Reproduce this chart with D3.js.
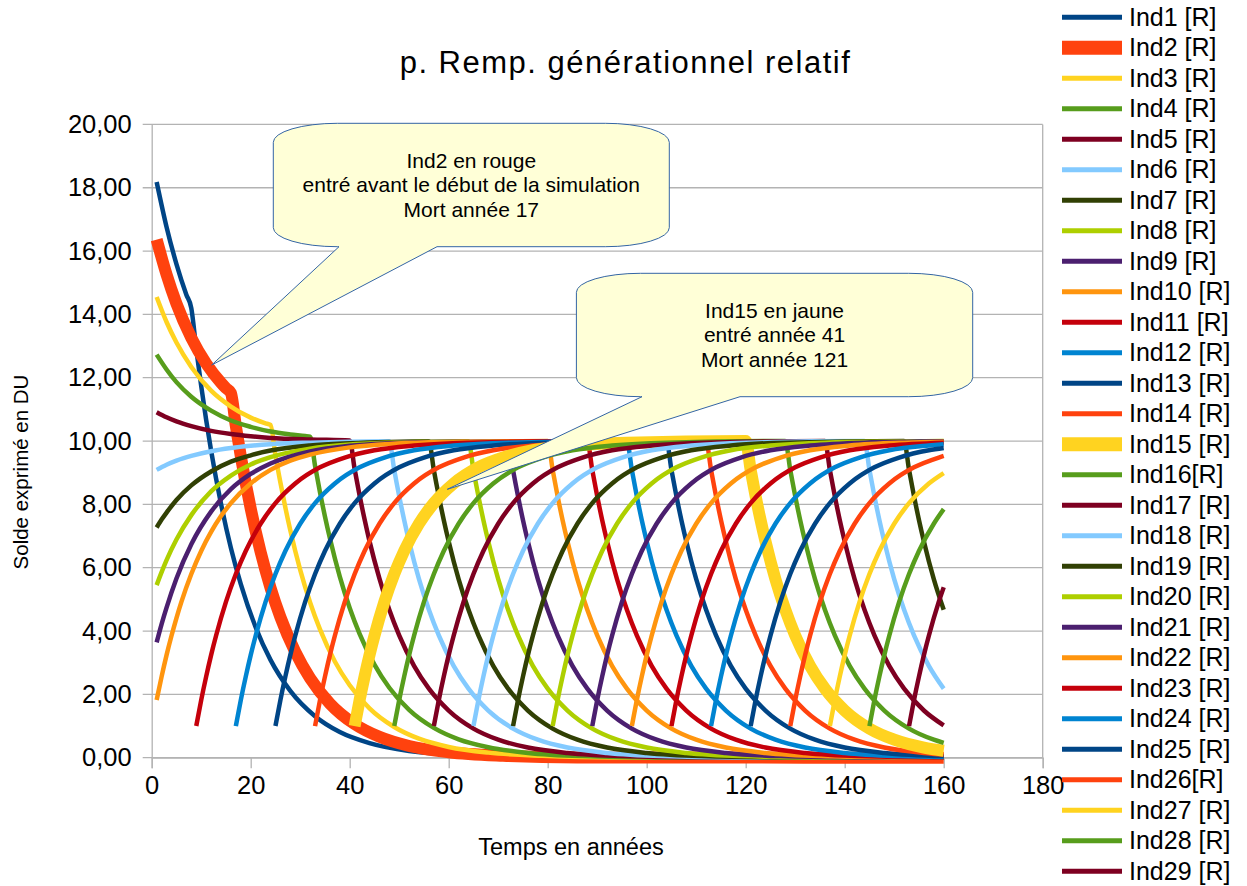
<!DOCTYPE html>
<html>
<head>
<meta charset="utf-8">
<script src="https://cdn.jsdelivr.net/npm/d3@7"></script>
<style>
  body { margin: 0; background: #fff; }
  svg { font-family: "Liberation Sans", Arial, sans-serif; }
</style>
</head>
<body>
<svg id="chart" width="1247" height="886"></svg>
<script>
var ind1 = [[1,18.18],[3,16.76],[5,15.59],[7,14.62],[8,14.20],[9,12.91],[10,11.74],[11,10.67],[12,9.70],[14,8.02],[16,6.62],[18,5.48],[21,4.12],[24,3.09],[28,2.11],[33,1.31],[38,0.81],[44,0.46],[52,0.21],[63,0.08],[78,0.02],[160,0]];
var ind2 = [[1,16.36],[3,15.26],[5,14.34],[8,13.26],[11,12.45],[14,11.84],[15,11.67],[16,11.52],[17,10.47],[18,9.52],[19,8.66],[20,7.87],[22,6.50],[24,5.37],[26,4.44],[29,3.34],[32,2.51],[36,1.71],[41,1.06],[46,0.66],[52,0.37],[60,0.17],[71,0.06],[86,0.01],[160,0]];
var ind3 = [[1,14.55],[3,13.76],[5,13.11],[8,12.34],[12,11.59],[16,11.09],[20,10.74],[23,10.56],[24,10.51],[25,9.55],[26,8.69],[27,7.90],[28,7.18],[30,5.93],[32,4.90],[34,4.05],[37,3.04],[40,2.29],[44,1.56],[49,0.97],[54,0.60],[60,0.34],[68,0.16],[79,0.06],[94,0.01],[160,0]];
var ind4 = [[1,12.73],[3,12.26],[5,11.86],[8,11.40],[12,10.96],[16,10.65],[20,10.45],[24,10.30],[28,10.21],[31,10.16],[32,10.14],[33,9.22],[34,8.38],[35,7.62],[36,6.93],[38,5.72],[40,4.73],[42,3.91],[45,2.94],[48,2.21],[52,1.51],[57,0.94],[62,0.58],[68,0.33],[76,0.15],[87,0.05],[102,0.01],[160,0]];
var ind5 = [[1,10.91],[3,10.75],[5,10.62],[8,10.47],[12,10.32],[16,10.22],[20,10.15],[24,10.10],[32,10.05],[40,10.02],[41,9.11],[42,8.28],[43,7.53],[44,6.84],[46,5.66],[48,4.67],[50,3.86],[53,2.90],[56,2.18],[60,1.49],[65,0.92],[70,0.57],[76,0.32],[84,0.15],[95,0.05],[110,0.01],[160,0]];
var ind6 = [[1,9.09],[3,9.25],[5,9.38],[8,9.53],[12,9.68],[16,9.78],[20,9.85],[24,9.90],[32,9.95],[40,9.98],[48,9.99],[49,9.08],[50,8.26],[51,7.51],[52,6.83],[54,5.64],[56,4.67],[58,3.86],[61,2.90],[64,2.18],[68,1.49],[73,0.92],[78,0.57],[84,0.32],[92,0.15],[103,0.05],[118,0.01],[160,0]];
var ind7 = [[1,7.27],[2,7.52],[3,7.74],[5,8.14],[8,8.60],[12,9.04],[16,9.35],[20,9.55],[24,9.70],[32,9.86],[40,9.93],[48,9.97],[56,9.99],[57,9.08],[58,8.26],[59,7.51],[60,6.83],[62,5.64],[64,4.67],[66,3.86],[69,2.90],[72,2.18],[76,1.49],[81,0.92],[86,0.57],[92,0.32],[100,0.15],[111,0.05],[126,0.01],[160,0]];
var ind8 = [[1,5.45],[2,5.86],[3,6.24],[5,6.89],[8,7.66],[12,8.41],[16,8.91],[20,9.26],[24,9.49],[32,9.76],[40,9.89],[48,9.95],[56,9.98],[64,9.99],[65,9.08],[66,8.26],[67,7.51],[68,6.83],[70,5.64],[72,4.67],[74,3.86],[77,2.90],[80,2.18],[84,1.49],[89,0.92],[94,0.57],[100,0.32],[108,0.15],[119,0.05],[134,0.01],[160,0]];
var ind9 = [[1,3.64],[2,4.22],[3,4.74],[5,5.66],[8,6.74],[12,7.77],[16,8.48],[20,8.96],[24,9.29],[32,9.67],[40,9.85],[48,9.93],[56,9.97],[64,9.98],[72,9.99],[73,9.08],[74,8.26],[75,7.51],[76,6.83],[78,5.64],[80,4.67],[82,3.86],[85,2.90],[88,2.18],[92,1.49],[97,0.92],[102,0.57],[108,0.32],[116,0.15],[127,0.05],[142,0.01],[160,0]];
var ind10 = [[1,1.82],[2,2.56],[3,3.24],[4,3.85],[5,4.41],[6,4.92],[8,5.80],[10,6.53],[12,7.13],[14,7.63],[16,8.04],[20,8.66],[24,9.09],[28,9.38],[32,9.57],[40,9.80],[48,9.91],[56,9.96],[64,9.98],[72,9.99],[80,10.00],[81,9.09],[82,8.26],[83,7.51],[84,6.83],[86,5.64],[88,4.67],[90,3.86],[93,2.90],[96,2.18],[100,1.49],[105,0.92],[110,0.57],[116,0.32],[124,0.15],[135,0.05],[150,0.01],[160,0]];
var ind11 = [[9,1.00],[10,1.82],[11,2.56],[12,3.24],[13,3.85],[15,4.92],[17,5.80],[19,6.53],[22,7.39],[25,8.04],[29,8.66],[34,9.17],[39,9.48],[45,9.71],[53,9.86],[64,9.95],[88,10.00],[89,9.09],[90,8.26],[91,7.51],[92,6.83],[94,5.64],[96,4.67],[98,3.86],[101,2.90],[104,2.18],[108,1.49],[113,0.92],[118,0.57],[124,0.32],[132,0.15],[143,0.05],[158,0.01],[160,0.01]];
var ind12 = [[17,1.00],[18,1.82],[19,2.56],[20,3.24],[21,3.85],[23,4.92],[25,5.80],[27,6.53],[30,7.39],[33,8.04],[37,8.66],[42,9.17],[47,9.48],[53,9.71],[61,9.86],[72,9.95],[96,10.00],[97,9.09],[98,8.26],[99,7.51],[100,6.83],[102,5.64],[104,4.67],[106,3.86],[109,2.90],[112,2.18],[116,1.49],[121,0.92],[126,0.57],[132,0.32],[140,0.15],[151,0.05],[160,0.02]];
var ind13 = [[25,1.00],[26,1.82],[27,2.56],[28,3.24],[29,3.85],[31,4.92],[33,5.80],[35,6.53],[38,7.39],[41,8.04],[45,8.66],[50,9.17],[55,9.48],[61,9.71],[69,9.86],[80,9.95],[104,10.00],[105,9.09],[106,8.26],[107,7.51],[108,6.83],[110,5.64],[112,4.67],[114,3.86],[117,2.90],[120,2.18],[124,1.49],[129,0.92],[134,0.57],[140,0.32],[148,0.15],[160,0.05]];
var ind14 = [[33,1.00],[34,1.82],[35,2.56],[36,3.24],[37,3.85],[39,4.92],[41,5.80],[43,6.53],[46,7.39],[49,8.04],[53,8.66],[58,9.17],[63,9.48],[69,9.71],[77,9.86],[88,9.95],[112,10.00],[113,9.09],[114,8.26],[115,7.51],[116,6.83],[118,5.64],[120,4.67],[122,3.86],[125,2.90],[128,2.18],[132,1.49],[137,0.92],[142,0.57],[148,0.32],[156,0.15],[160,0.10]];
var ind15 = [[41,1.00],[42,1.82],[43,2.56],[44,3.24],[45,3.85],[47,4.92],[49,5.80],[51,6.53],[54,7.39],[57,8.04],[61,8.66],[66,9.17],[71,9.48],[77,9.71],[85,9.86],[96,9.95],[120,10.00],[121,9.09],[122,8.26],[123,7.51],[124,6.83],[126,5.64],[128,4.67],[130,3.86],[133,2.90],[136,2.18],[140,1.49],[145,0.92],[150,0.57],[156,0.32],[160,0.22]];
var ind16 = [[49,1.00],[50,1.82],[51,2.56],[52,3.24],[53,3.85],[55,4.92],[57,5.80],[59,6.53],[62,7.39],[65,8.04],[69,8.66],[74,9.17],[79,9.48],[85,9.71],[93,9.86],[104,9.95],[128,10.00],[129,9.09],[130,8.26],[131,7.51],[132,6.83],[134,5.64],[136,4.67],[138,3.86],[141,2.90],[144,2.18],[148,1.49],[153,0.92],[158,0.57],[160,0.47]];
var ind17 = [[57,1.00],[58,1.82],[59,2.56],[60,3.24],[61,3.85],[63,4.92],[65,5.80],[67,6.53],[70,7.39],[73,8.04],[77,8.66],[82,9.17],[87,9.48],[93,9.71],[101,9.86],[112,9.95],[136,10.00],[137,9.09],[138,8.26],[139,7.51],[140,6.83],[142,5.64],[144,4.67],[146,3.86],[149,2.90],[152,2.18],[156,1.49],[160,1.02]];
var ind18 = [[65,1.00],[66,1.82],[67,2.56],[68,3.24],[69,3.85],[71,4.92],[73,5.80],[75,6.53],[78,7.39],[81,8.04],[85,8.66],[90,9.17],[95,9.48],[101,9.71],[109,9.86],[120,9.95],[144,10.00],[145,9.09],[146,8.26],[147,7.51],[148,6.83],[150,5.64],[152,4.67],[154,3.86],[157,2.90],[160,2.18]];
var ind19 = [[73,1.00],[74,1.82],[75,2.56],[76,3.24],[77,3.85],[79,4.92],[81,5.80],[83,6.53],[86,7.39],[89,8.04],[93,8.66],[98,9.17],[103,9.48],[109,9.71],[117,9.86],[128,9.95],[152,10.00],[153,9.09],[154,8.26],[155,7.51],[156,6.83],[158,5.64],[160,4.67]];
var ind20 = [[81,1.00],[82,1.82],[83,2.56],[84,3.24],[85,3.85],[87,4.92],[89,5.80],[91,6.53],[94,7.39],[97,8.04],[101,8.66],[106,9.17],[111,9.48],[117,9.71],[125,9.86],[136,9.95],[160,10.00]];
var ind21 = [[89,1.00],[90,1.82],[91,2.56],[92,3.24],[93,3.85],[95,4.92],[97,5.80],[99,6.53],[102,7.39],[105,8.04],[109,8.66],[114,9.17],[119,9.48],[125,9.71],[133,9.86],[144,9.95],[160,9.99]];
var ind22 = [[97,1.00],[98,1.82],[99,2.56],[100,3.24],[101,3.85],[103,4.92],[105,5.80],[107,6.53],[110,7.39],[113,8.04],[117,8.66],[122,9.17],[127,9.48],[133,9.71],[141,9.86],[152,9.95],[160,9.98]];
var ind23 = [[105,1.00],[106,1.82],[107,2.56],[108,3.24],[109,3.85],[111,4.92],[113,5.80],[115,6.53],[118,7.39],[121,8.04],[125,8.66],[130,9.17],[135,9.48],[141,9.71],[149,9.86],[160,9.95]];
var ind24 = [[113,1.00],[114,1.82],[115,2.56],[116,3.24],[117,3.85],[119,4.92],[121,5.80],[123,6.53],[126,7.39],[129,8.04],[133,8.66],[138,9.17],[143,9.48],[149,9.71],[157,9.86],[160,9.90]];
var ind25 = [[121,1.00],[122,1.82],[123,2.56],[124,3.24],[125,3.85],[127,4.92],[129,5.80],[131,6.53],[134,7.39],[137,8.04],[141,8.66],[146,9.17],[151,9.48],[157,9.71],[160,9.78]];
var ind26 = [[129,1.00],[130,1.82],[131,2.56],[132,3.24],[133,3.85],[135,4.92],[137,5.80],[139,6.53],[142,7.39],[145,8.04],[149,8.66],[154,9.17],[159,9.48],[160,9.53]];
var ind27 = [[137,1.00],[138,1.82],[139,2.56],[140,3.24],[141,3.85],[143,4.92],[145,5.80],[147,6.53],[150,7.39],[153,8.04],[157,8.66],[160,8.99]];
var ind28 = [[145,1.00],[146,1.82],[147,2.56],[148,3.24],[149,3.85],[151,4.92],[153,5.80],[155,6.53],[158,7.39],[160,7.85]];
var ind29 = [[153,1.00],[154,1.82],[155,2.56],[156,3.24],[157,3.85],[159,4.92],[160,5.38]];

var names = ["Ind1 [R]","Ind2 [R]","Ind3 [R]","Ind4 [R]","Ind5 [R]","Ind6 [R]","Ind7 [R]","Ind8 [R]","Ind9 [R]","Ind10 [R]",
  "Ind11 [R]","Ind12 [R]","Ind13 [R]","Ind14 [R]","Ind15 [R]","Ind16[R]","Ind17 [R]","Ind18 [R]","Ind19 [R]","Ind20 [R]",
  "Ind21 [R]","Ind22 [R]","Ind23 [R]","Ind24 [R]","Ind25 [R]","Ind26[R]","Ind27 [R]","Ind28 [R]","Ind29 [R]"];
var allSeries = [ind1,ind2,ind3,ind4,ind5,ind6,ind7,ind8,ind9,ind10,ind11,ind12,ind13,ind14,ind15,
  ind16,ind17,ind18,ind19,ind20,ind21,ind22,ind23,ind24,ind25,ind26,ind27,ind28,ind29];
var xTicks = [0,20,40,60,80,100,120,140,160,180];
var yTicks = [0,2,4,6,8,10,12,14,16,18,20];

// libreoffice default palette, repeats every 12 series
var palette = ["#004586","#ff420e","#ffd320","#579d1c","#7e0021","#83caff","#314004","#aecf00","#4b1f6f","#ff950e","#c5000b","#0084d1"];
function color(i){ return palette[i % 12]; }
function thick(i){ return i == 1 || i == 14; }

var svg = d3.select("#chart");
// plot area (note: "top" is reserved on window, so pTop etc.)
var pLeft = 151.7, pRight = 1042.7, pTop = 124.4, pBottom = 757.7;

var x = d3.scaleLinear().domain([0,180]).range([pLeft,pRight]);
var y = d3.scaleLinear().domain([0,20]).range([pBottom,pTop]);

svg.append("rect").attr("width",1247).attr("height",886).attr("fill","#fff");

// grid
svg.append("g").selectAll("line").data(yTicks).enter().append("line")
  .attr("x1", pLeft - 9).attr("x2", pRight)
  .attr("y1", function(d){ return y(d); }).attr("y2", function(d){ return y(d); })
  .attr("stroke", "#b3b3b3").attr("stroke-width", 1.3);

var yAxis = svg.append("g").attr("transform","translate(" + pLeft + ",0)")
  .call(d3.axisLeft(y).tickValues(yTicks).tickSize(0).tickPadding(20)
    .tickFormat(function(d){ return d3.format(".2f")(d).replace(".", ","); }));
yAxis.select(".domain").attr("stroke","#b3b3b3").attr("stroke-width",1.3);
yAxis.selectAll("text").attr("font-size", 25.5).attr("fill","#000")
  .attr("font-family","'Liberation Sans', Arial, sans-serif");

var xAxis = svg.append("g").attr("transform","translate(0," + pBottom + ")")
  .call(d3.axisBottom(x).tickValues(xTicks).tickSize(10.5).tickPadding(8));
xAxis.select(".domain").attr("stroke","#b3b3b3").attr("stroke-width",1.3);
xAxis.selectAll(".tick line").attr("stroke","#b3b3b3").attr("stroke-width",1.3);
xAxis.selectAll("text").attr("font-size", 25.5).attr("fill","#000")
  .attr("font-family","'Liberation Sans', Arial, sans-serif");

// right wall border
svg.append("line").attr("x1", pRight).attr("x2", pRight).attr("y1", pTop).attr("y2", pBottom)
  .attr("stroke","#b3b3b3").attr("stroke-width",1.3);

var line = d3.line()
  .x(function(d){ return x(d[0]); })
  .y(function(d){ return y(d[1]); })
  .curve(d3.curveMonotoneX);

svg.append("g").selectAll("path").data(allSeries).enter().append("path")
  .attr("d", line)
  .attr("fill","none")
  .attr("stroke", function(d,i){ return color(i); })
  .attr("stroke-width", function(d,i){ return thick(i) ? 12 : 4.5; })
  .attr("stroke-linejoin","round");

// callouts
function bubble(x0, y0, x1, y1, b0, b1, tx, ty){
  var rx = 64, ry = 19;
  return "M" + (x0+rx) + "," + y0 + "H" + (x1-rx) +
    "A" + rx + "," + ry + " 0 0 1 " + x1 + "," + (y0+ry) +
    "V" + (y1-ry) +
    "A" + rx + "," + ry + " 0 0 1 " + (x1-rx) + "," + y1 +
    "H" + b1 + "L" + tx + "," + ty + "L" + b0 + "," + y1 +
    "H" + (x0+rx) +
    "A" + rx + "," + ry + " 0 0 1 " + x0 + "," + (y1-ry) +
    "V" + (y0+ry) +
    "A" + rx + "," + ry + " 0 0 1 " + (x0+rx) + "," + y0 + "Z";
}
var notes = [
  {box:[273.3,123.3,669.3,246.7], base:[339,437], tip:[211.7,365],
   lines:["Ind2 en rouge","entré avant le début de la simulation","Mort année 17"]},
  {box:[576.4,273.3,972.7,396.7], base:[642,740], tip:[447.3,489.3],
   lines:["Ind15 en jaune","entré année 41","Mort année 121"]}
];
notes.forEach(function(n){
  svg.append("path")
    .attr("d", bubble(n.box[0], n.box[1], n.box[2], n.box[3], n.base[0], n.base[1], n.tip[0], n.tip[1]))
    .attr("fill","#ffffd7").attr("stroke","#3465a4").attr("stroke-width",1);
  var cx = (n.box[0] + n.box[2]) / 2, cy = (n.box[1] + n.box[3]) / 2;
  n.lines.forEach(function(t, k){
    svg.append("text").attr("x", cx).attr("y", cy + (k - 1) * 24.5)
      .attr("dy","0.35em").attr("text-anchor","middle")
      .attr("font-size", 21).text(t);
  });
});

// titles
svg.append("text").attr("x", 625.5).attr("y", 73).attr("text-anchor","middle")
  .attr("font-size", 31).attr("letter-spacing", 1.5).text("p. Remp. générationnel relatif");
svg.append("text").attr("x", 571).attr("y", 847).attr("dy","0.35em").attr("text-anchor","middle")
  .attr("font-size", 23.5).text("Temps en années");
svg.append("text").attr("transform","translate(21,472) rotate(-90)").attr("dy","0.35em")
  .attr("text-anchor","middle").attr("font-size", 20.5).text("Solde exprimé en DU");

// legend
var legend = svg.append("g").selectAll("g").data(names).enter().append("g")
  .attr("transform", function(d,i){ return "translate(1062," + (17.3 + i * 30.5) + ")"; });
legend.append("line").attr("x1",0).attr("x2",60)
  .attr("stroke", function(d,i){ return color(i); })
  .attr("stroke-width", function(d,i){ return thick(i) ? 14 : 5; });
legend.append("text").attr("x", 67).attr("dy","0.33em").attr("font-size", 25)
  .text(function(d){ return d; });
</script>
</body>
</html>
